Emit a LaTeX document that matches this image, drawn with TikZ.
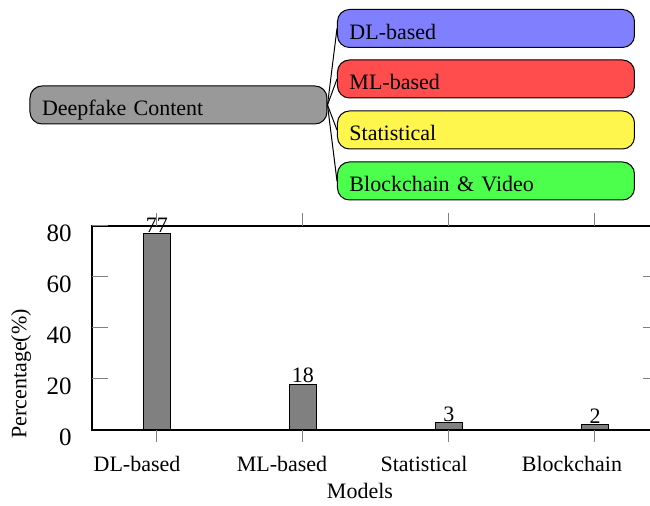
\documentclass[tikz,border=0pt]{standalone}
\usepackage{fontspec}
\setmainfont{Liberation Serif}

\begin{document}
\begin{tikzpicture}[x=0.5pt,y=0.5pt,font=\fontsize{11}{13}\selectfont]

      \clip (0,0) rectangle (650,506);

      % taxonomy boxes
      \begin{scope}[every node/.style={draw, line width=0.5pt, rounded corners=6pt,
          text width=136.5pt, inner xsep=6pt, inner ysep=0pt,
          text height=15pt, text depth=4pt}]
        \node[fill=black!40] (root)  at (178.5,401) {Deepfake Content};
        \node[fill=blue!50]  (dl)    at (486,477.5) {DL-based};
        \node[fill=red!70]   (ml)    at (486,427)   {ML-based};
        \node[fill=yellow!70](stat)  at (486,376)   {Statistical};
        \node[fill=green!70] (chain) at (486,325)   {Blockchain \& Video};
      \end{scope}

      \begin{scope}[every edge/.style={draw, line width=0.5pt}]
        \path (root.east) edge (dl.west);
        \path (root.east) edge (ml.west);
        \path (root.east) edge (stat.west);
        \path (root.east) edge (chain.west);
      \end{scope}

      % bar chart
      \draw[line width=0.6pt] (92,76) rectangle (659,280);

      \begin{scope}[gray, line width=0.5pt]
        \draw (92,127) -- (108,127);
        \draw (92,178) -- (108,178);
        \draw (92,229) -- (108,229);
        \draw (92,280) -- (108,280);
        \draw (659,127) -- (643,127);
        \draw (659,178) -- (643,178);
        \draw (659,229) -- (643,229);
        \draw (157,76) -- (157,64);
        \draw (303,76) -- (303,64);
        \draw (449,76) -- (449,64);
        \draw (595,76) -- (595,64);
        \draw (157,280) -- (157,293);
        \draw (303,280) -- (303,293);
        \draw (449,280) -- (449,293);
        \draw (595,280) -- (595,293);
      \end{scope}

      \begin{scope}[line width=0.5pt]
        \draw[fill=gray] (143.5,76) rectangle (170.5,272.35);
        \draw[fill=gray] (289.5,76) rectangle (316.5,121.9);
        \draw[fill=gray] (435.5,76) rectangle (462.5,83.65);
        \draw[fill=gray] (581.5,76) rectangle (608.5,81.1);
      \end{scope}

      \begin{scope}[every node/.style={anchor=base, inner sep=0pt}]
        \node (v77) at (157,273.5) {77};
        \node (v18) at (303,123)   {18};
        \node (v3)  at (449,84.5)  {3};
        \node (v2)  at (595,82)    {2};
      \end{scope}

      \begin{scope}[every node/.style={anchor=east, inner sep=0pt, font=\fontsize{12.5}{14}\selectfont}]
        \node (y0)  at (72,68.5)  {0};
        \node (y20) at (72,119.5) {20};
        \node (y40) at (72,170.5) {40};
        \node (y60) at (72,221.5) {60};
        \node (y80) at (72,272.5) {80};
      \end{scope}

      \begin{scope}[every node/.style={anchor=base, inner sep=0pt}]
        \node (xdl)    at (137,34) {DL-based};
        \node (xml)    at (282,34) {ML-based};
        \node (xstat)  at (424,34) {Statistical};
        \node (xchain) at (572,34) {Blockchain};
        \node (xlabel) at (360,7)  {Models};
      \end{scope}

      \node[rotate=90, inner sep=0pt] (ylabel) at (21,132) {Percentage(\%)};

    \end{tikzpicture}
\end{document}
